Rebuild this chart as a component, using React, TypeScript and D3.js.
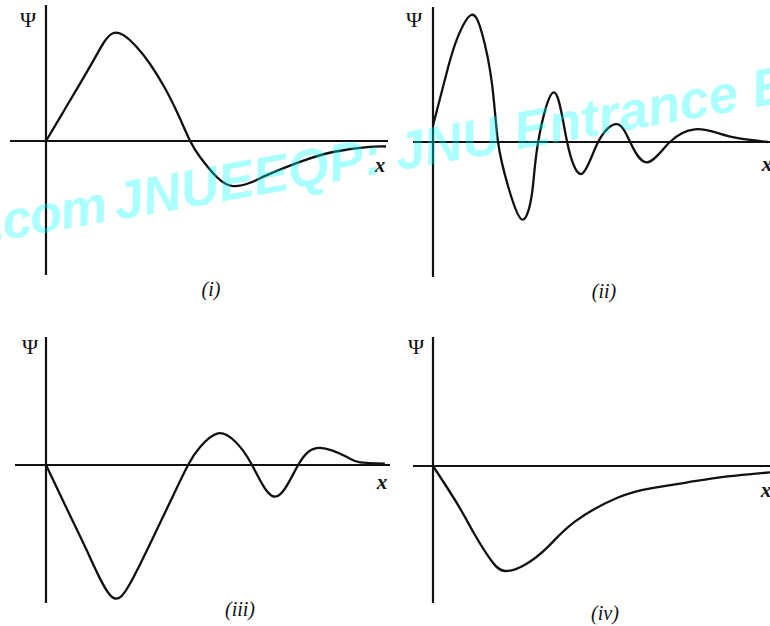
import React, { useEffect, useRef } from "react";
import * as d3 from "d3";

// sample points, x in [0,10] along each panel, psi in [-1,1]
const psi1X = [0, 0.47, 0.94, 1.41, 1.71, 1.97, 2.29, 2.68, 3.06, 3.5, 3.88, 4.24, 4.53, 5.03, 5.5, 6.0, 6.5, 7.47, 8.44, 9.44, 10];
const psi1Y = [0, 0.245, 0.49, 0.74, 0.9, 0.98, 0.96, 0.85, 0.7, 0.48, 0.245, 0, -0.145, -0.33, -0.41, -0.38, -0.31, -0.19, -0.1, -0.055, -0.05];

const psi2X = [0, 0.45, 0.74, 1.13, 1.45, 1.75, 1.93, 2.23, 2.64, 2.94, 3.12, 3.59, 3.98, 4.42, 4.9, 5.46, 5.85, 6.35, 7.03, 7.77, 8.46, 9.05, 9.94];
const psi2Y = [0.13, 0.59, 0.83, 1.0, 0.86, 0.46, 0, -0.35, -0.61, -0.4, 0, 0.39, 0, -0.25, 0, 0.14, 0, -0.16, 0, 0.1, 0.07, 0.03, 0];

const psi3X = [0, 0.64, 1.28, 1.92, 2.44, 3.02, 3.69, 4.13, 4.48, 5.0, 5.49, 5.99, 6.66, 7.33, 7.97, 8.75, 9.13, 9.85];
const psi3Y = [0, -0.35, -0.7, -1.0, -0.9, -0.6, -0.235, 0, 0.136, 0.24, 0.18, 0, -0.24, 0, 0.13, 0.06, 0.02, 0.01];

const psi4X = [0, 0.74, 1.25, 1.75, 2.14, 2.73, 3.41, 4.21, 5.49, 6.5, 7.48, 8.46, 10];
const psi4Y = [0, -0.37, -0.66, -0.91, -1.0, -0.94, -0.77, -0.53, -0.3, -0.21, -0.16, -0.11, -0.06];

const panelLabels = ["(i)", "(ii)", "(iii)", "(iv)"];

// layout of the four panels (pixel boxes)
const panels = [
  { xs: psi1X, ys: psi1Y, ox: 46, oy: 141, right: 386, amp: 110, axLeft: 10, axRight: 388, yTop: 5, yBot: 275, psi: [28, 27], xl: [380, 172], lab: [211, 296] },
  { xs: psi2X, ys: psi2Y, ox: 433, oy: 142, right: 770, amp: 127, axLeft: 413, axRight: 770, yTop: 7, yBot: 277, psi: [414, 27], xl: [767, 171], lab: [604, 298] },
  { xs: psi3X, ys: psi3Y, ox: 46, oy: 465, right: 390, amp: 132, axLeft: 15, axRight: 390, yTop: 337, yBot: 603, psi: [30, 354], xl: [382, 489], lab: [240, 616] },
  { xs: psi4X, ys: psi4Y, ox: 433, oy: 466, right: 770, amp: 105, axLeft: 413, axRight: 770, yTop: 337, yBot: 603, psi: [416, 354], xl: [766, 497], lab: [605, 620] },
];

const W = 770;
const H = 626;

function App() {
  const ref = useRef<SVGSVGElement>(null);

  useEffect(() => {
    const svg = d3.select(ref.current);
    svg.selectAll("*").remove();
    svg.append("rect").attr("width", W).attr("height", H).attr("fill", "#fff");

    panels.forEach((p, i) => {
      const x = d3.scaleLinear().domain([0, 10]).range([p.ox, p.right]);
      const y = d3.scaleLinear().domain([-1, 1]).range([p.oy + p.amp, p.oy - p.amp]);
      const g = svg.append("g");

      // axes
      g.append("line")
        .attr("x1", p.axLeft).attr("x2", p.axRight)
        .attr("y1", y(0)).attr("y2", y(0))
        .attr("stroke", "#111").attr("stroke-width", 2);
      g.append("line")
        .attr("x1", x(0)).attr("x2", x(0))
        .attr("y1", p.yTop).attr("y2", p.yBot)
        .attr("stroke", "#111").attr("stroke-width", 2.2);

      const pts: [number, number][] = p.xs.map((v, k) => [v, p.ys[k]]);
      const line = d3.line<[number, number]>()
        .x(d => x(d[0]))
        .y(d => y(d[1]))
        .curve(d3.curveNatural);
      g.append("path")
        .attr("d", line(pts))
        .attr("fill", "none")
        .attr("stroke", "#111")
        .attr("stroke-width", 2.3);

      g.append("text")
        .text("Ψ")
        .attr("x", p.psi[0]).attr("y", p.psi[1])
        .attr("text-anchor", "middle")
        .attr("font-family", "Liberation Serif, serif")
        .attr("font-size", 22)
        .attr("fill", "#111");
      g.append("text")
        .text("x")
        .attr("x", p.xl[0]).attr("y", p.xl[1])
        .attr("text-anchor", "middle")
        .attr("font-family", "Liberation Serif, serif")
        .attr("font-style", "italic")
        .attr("font-weight", "bold")
        .attr("font-size", 21)
        .attr("fill", "#111");
      g.append("text")
        .text(panelLabels[i])
        .attr("x", p.lab[0]).attr("y", p.lab[1])
        .attr("text-anchor", "middle")
        .attr("font-family", "Liberation Serif, serif")
        .attr("font-style", "italic")
        .attr("font-size", 20)
        .attr("fill", "#111");
    });

    // watermark over the figure
    const wm = svg.append("g")
      .attr("transform", "translate(117,220) rotate(-10)")
      .attr("font-family", "Liberation Sans, Arial, sans-serif")
      .attr("font-weight", "bold")
      .attr("font-style", "italic")
      .attr("font-size", 53)
      .attr("fill", "#00ffff")
      .attr("fill-opacity", 0.33);
    wm.append("text").text("www.jnueeqp.com").attr("x", -9)
      .attr("letter-spacing", -1.5).attr("text-anchor", "end");
    wm.append("text").text("JNUEEQP: JNU Entrance Exam").attr("x", 0);
  }, []);

  return (
    <svg ref={ref} width={W} height={H} style={{ position: "absolute", left: 0, top: 0 }}></svg>
  );
}

export default App;
